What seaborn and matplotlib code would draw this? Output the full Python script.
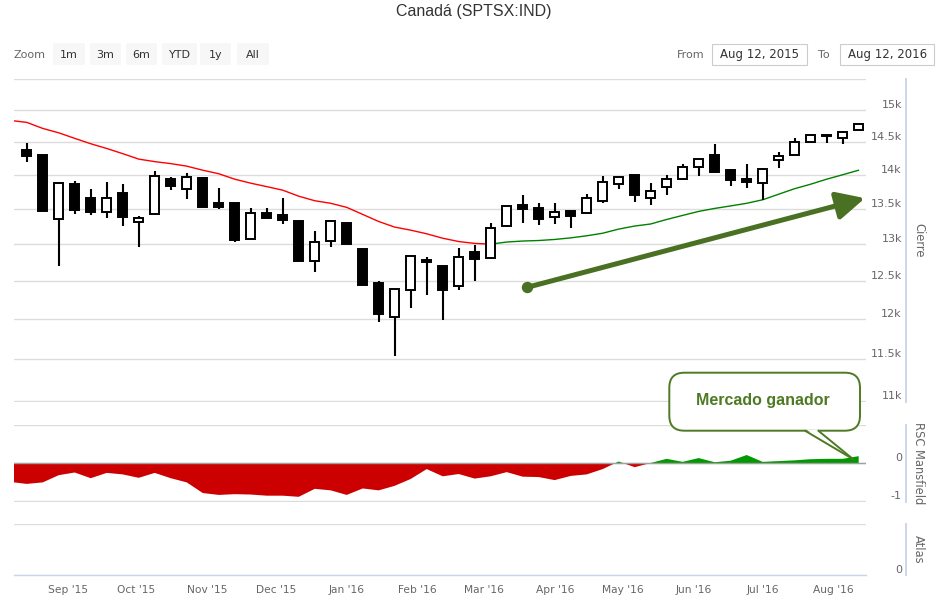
import numpy as np
import pandas as pd
import seaborn as sns
import matplotlib.pyplot as plt
import matplotlib.dates as mdates
from matplotlib.patches import FancyBboxPatch, Polygon
from matplotlib.lines import Line2D
from matplotlib.ticker import NullLocator

# weekly candles (Friday), SPTSX
dates = pd.date_range('2015-08-14', periods=53, freq='7D')
opens = [14370, 14290, 13355, 13855, 13660, 13455, 13725, 13315, 13420, 13940,
         13785, 13955, 13580, 13580, 13070, 13435, 13405, 13330, 12770, 13045,
         13300, 12930, 12470, 12025, 12385, 12785, 12705, 12435, 12895, 12815,
         13250, 13550, 13515, 13380, 13465, 13445, 13605, 13855, 13990, 13660,
         13810, 13930, 14120, 14290, 14065, 13940, 13870, 14215, 14290, 14495,
         14580, 14560, 14680]
highs = [14475, 14295, 13885, 13905, 13785, 13890, 13855, 13395, 14060, 13970,
         14020, 13960, 13795, 13580, 13515, 13515, 13660, 13335, 13185, 13345,
         13315, 12940, 12505, 12395, 12830, 12820, 12705, 12940, 12985, 13290,
         13540, 13695, 13580, 13580, 13470, 13710, 13980, 13965, 13995, 13880,
         13990, 14155, 14245, 14460, 14090, 14165, 14095, 14345, 14560, 14615,
         14610, 14660, 14775]
lows = [14190, 13460, 12705, 13420, 13410, 13360, 13250, 12965, 13410, 13775,
        13645, 13520, 13490, 13030, 13065, 13365, 13275, 12770, 12625, 12955,
        12995, 12440, 11965, 11540, 12150, 12320, 11990, 12375, 12505, 12795,
        13245, 13300, 13265, 13285, 13225, 13440, 13580, 13785, 13590, 13555,
        13695, 13925, 13980, 14030, 13830, 13800, 13625, 14100, 14290, 14490,
        14485, 14460, 14675]
closes = [14280, 13465, 13880, 13480, 13450, 13660, 13380, 13365, 13980, 13830,
          13965, 13525, 13525, 13060, 13445, 13365, 13345, 12775, 13025, 13320,
          12995, 12440, 12070, 12395, 12830, 12750, 12375, 12820, 12795, 13220,
          13540, 13500, 13355, 13450, 13395, 13655, 13890, 13960, 13695, 13760,
          13940, 14120, 14240, 14040, 13915, 13895, 14090, 14280, 14495, 14610,
          14605, 14655, 14770]

# moving average and RSC Mansfield start one week earlier
line_dates = pd.date_range('2015-08-07', periods=54, freq='7D')
ma30 = [14830, 14800, 14705, 14636, 14550, 14467, 14394, 14315, 14232, 14194,
        14164, 14126, 14065, 14012, 13931, 13872, 13821, 13769, 13681, 13615,
        13578, 13519, 13418, 13317, 13238, 13195, 13144, 13082, 13036, 13010,
        13000, 13029, 13043, 13050, 13065, 13087, 13116, 13152, 13210, 13253,
        13282, 13346, 13404, 13461, 13504, 13540, 13578, 13629, 13710, 13791,
        13857, 13931, 13997, 14065]
rsc = [-0.50, -0.55, -0.51, -0.32, -0.25, -0.40, -0.26, -0.30, -0.39, -0.26,
       -0.40, -0.51, -0.79, -0.84, -0.82, -0.83, -0.86, -0.86, -0.89, -0.68,
       -0.72, -0.84, -0.67, -0.72, -0.60, -0.42, -0.16, -0.35, -0.29, -0.41,
       -0.35, -0.24, -0.36, -0.37, -0.45, -0.34, -0.30, -0.16, 0.04, -0.11,
       0.00, 0.11, 0.03, 0.13, 0.02, 0.06, 0.21, 0.03, 0.05, 0.07,
       0.10, 0.11, 0.11, 0.18]
cross = 30  # index where the average turns from red to green

price_ticks = [11000, 11500, 12000, 12500, 13000, 13500, 14000, 14500, 15000, 15500]
price_labels = ['11k', '11.5k', '12k', '12.5k', '13k', '13.5k', '14k', '14.5k', '15k', '']
buttons = ['1m', '3m', '6m', 'YTD', '1y', 'All']
date_from = 'Aug 12, 2015'
date_to = 'Aug 12, 2016'

sns.set_style('white')
plt.rcParams['font.family'] = ['DejaVu Sans']

W, H = 952, 612
fig = plt.figure(figsize=(W / 100, H / 100), dpi=100)

def rect(x0, y0, x1, y1):
    return [x0 / W, 1 - y1 / H, (x1 - x0) / W, (y1 - y0) / H]

def inch(x, y):
    return x / 100, (H - y) / 100

ax_p = fig.add_axes(rect(14, 78.5, 866, 401.5))
ax_r = fig.add_axes(rect(14, 424.5, 866, 501.5), sharex=ax_p)
ax_a = fig.add_axes(rect(14, 523.5, 866, 575), sharex=ax_p)

# candles
df = pd.DataFrame({'date': dates, 'open': opens, 'high': highs, 'low': lows, 'close': closes})
up = df['close'] >= df['open']
lo = df[['open', 'close']].min(axis=1)
hi = df[['open', 'close']].max(axis=1)
ax_p.vlines(df['date'], df['low'], df['high'], color='black', lw=1.5, zorder=3)
ax_p.bar(df['date'], hi - lo, bottom=lo, width=3.8,
         color=np.where(up, 'white', 'black'), edgecolor='black', lw=1.4, zorder=4)

ma = pd.DataFrame({'date': line_dates, 'ma': ma30})
sns.lineplot(data=ma.iloc[:cross + 1], x='date', y='ma', color='#ff0000', lw=1, ax=ax_p)
sns.lineplot(data=ma.iloc[cross:], x='date', y='ma', color='#008000', lw=1, ax=ax_p)

ax_p.set_yscale('log')
ax_p.set_ylim(10994, 15508)
ax_p.set_yticks(price_ticks, price_labels)
ax_p.yaxis.set_minor_locator(NullLocator())

# RSC Mansfield
r = np.array(rsc)
ax_r.fill_between(line_dates, r, 0, where=r < 0, interpolate=True, color='#cc0000', lw=0)
ax_r.fill_between(line_dates, r, 0, where=r >= 0, interpolate=True, color='#009900', lw=0)
ax_r.axhline(0, color='#a0a0a0', lw=1, zorder=1)
ax_r.set_ylim(-1.013, 1.013)
ax_r.set_yticks([-1, 0, 1], ['-1', '0', ''])

# Atlas (empty)
ax_a.set_ylim(0, 1.01)
ax_a.set_yticks([0, 1], ['0', ''])

ax_p.set_xlim(pd.Timestamp('2015-08-08 10:00'), pd.Timestamp('2016-08-15 05:00'))
ax_a.xaxis.set_major_locator(mdates.MonthLocator())
ax_a.xaxis.set_major_formatter(mdates.DateFormatter("%b '%y"))

for ax, title in [(ax_p, 'Cierre'), (ax_r, 'RSC Mansfield'), (ax_a, 'Atlas')]:
    ax.set(xlabel='', ylabel='')
    ax.grid(axis='y', color='#dcdcdc', lw=1)
    ax.grid(axis='x', visible=False)
    for s in ['top', 'left', 'bottom']:
        ax.spines[s].set_visible(False)
    ax.spines['right'].set_position(('outward', 28.8))
    ax.spines['right'].set_color('#ccd6eb')
    ax.spines['right'].set_linewidth(1.4)
    ax.yaxis.tick_right()
    ax.tick_params(axis='y', length=0, pad=-3, labelsize=8, labelcolor='#666666')
    plt.setp(ax.yaxis.get_majorticklabels(), ha='right', va='bottom')
    ax.text(1.0619, 0.5, title, transform=ax.transAxes, rotation=270,
            ha='center', va='center', fontsize=8.3, color='#666666')
    if ax is not ax_a:
        ax.tick_params(axis='x', length=0, labelbottom=False)

ax_a.spines['bottom'].set_visible(True)
ax_a.spines['bottom'].set_color('#ccd6eb')
ax_a.spines['bottom'].set_linewidth(1)
ax_a.tick_params(axis='x', direction='out', length=6.5, width=1, color='#ccd6eb',
                 labelsize=7.7, labelcolor='#666666', pad=1)

# trend arrow
ax_p.annotate('', xy=(0.9988, 0.6295), xytext=(0.6018, 0.3531),
              xycoords='axes fraction', textcoords='axes fraction',
              arrowprops=dict(arrowstyle='-|>,head_length=0.85,head_width=0.42',
                              mutation_scale=20, lw=3.6, color='#4a7023',
                              shrinkA=0, shrinkB=0), annotation_clip=False, zorder=6)
ax_p.scatter([0.6018], [0.3531], s=52, color='#4a7023', transform=ax_p.transAxes,
             zorder=6, clip_on=False)

# header
fig.text(474 / W, 1 - 11.5 / H, 'Canadá (SPTSX:IND)', ha='center', va='center',
         fontsize=11.5, color='#333333', family='Liberation Sans')
fig.text(14 / W, 1 - 54.5 / H, 'Zoom', ha='left', va='center', fontsize=8, color='#666666')
btn_x = [53, 90, 126, 162, 200, 237]
btn_w = [32, 31, 31, 35, 31, 32]
for lab, bx, bw in zip(buttons, btn_x, btn_w):
    x0, y0 = inch(bx, 65)
    fig.add_artist(FancyBboxPatch((x0, y0), bw / 100, 0.22,
                                  boxstyle='round,pad=0,rounding_size=0.02',
                                  transform=fig.dpi_scale_trans, fc='#f7f7f7', ec='none'))
    fig.text((bx + bw / 2) / W, 1 - 54.5 / H, lab, ha='center', va='center',
             fontsize=8, color='#333333')

fig.text(704.3 / W, 1 - 54.5 / H, 'From', ha='right', va='center', fontsize=8, color='#666666')
fig.text(818 / W, 1 - 54.5 / H, 'To', ha='left', va='center', fontsize=8, color='#666666')
for bx0, bx1, lab in [(712.3, 806.7, date_from), (840.3, 934.3, date_to)]:
    x0, y0 = inch(bx0, 65.3)
    fig.add_artist(FancyBboxPatch((x0, y0), (bx1 - bx0) / 100, 0.213,
                                  boxstyle='square,pad=0', transform=fig.dpi_scale_trans,
                                  fc='white', ec='#cccccc', lw=0.8))
    fig.text((bx0 + bx1) / 2 / W, 1 - 54.5 / H, lab, ha='center', va='center',
             fontsize=8.5, color='#333333')

# callout
green = '#4e7a24'
x0, y0 = inch(669.3, 430.7)
fig.add_artist(FancyBboxPatch((x0, y0), (860 - 669.3) / 100, (430.7 - 372.7) / 100,
                              boxstyle='round,pad=0,rounding_size=0.15',
                              transform=fig.dpi_scale_trans, fc='white', ec=green, lw=1.4,
                              zorder=5))
tip = inch(853.3, 459.3)
fig.add_artist(Polygon([inch(806, 429.5), inch(817.5, 429.5), tip], closed=True,
                       transform=fig.dpi_scale_trans, fc='white', ec='none', zorder=6))
for bx in [805, 818.3]:
    p = inch(bx, 430.7)
    fig.add_artist(Line2D([p[0], tip[0]], [p[1], tip[1]], transform=fig.dpi_scale_trans,
                          color=green, lw=1.4, zorder=7))
fig.text(763 / W, 1 - 401 / H, 'Mercado ganador', ha='center', va='center',
         fontsize=11.5, fontweight='bold', color=green, family='Liberation Sans', zorder=8)

fig.savefig('out.png', dpi=100)
